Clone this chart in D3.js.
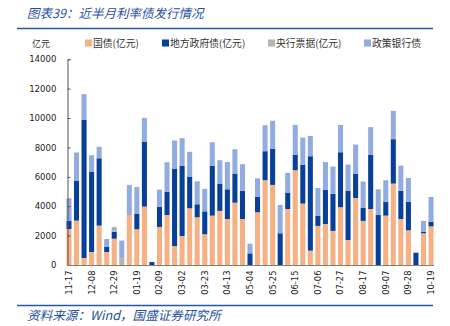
<!DOCTYPE html>
<html>
<head>
<meta charset="utf-8">
<script src="https://cdn.jsdelivr.net/npm/d3@7"></script>
<style>
  body { margin: 0; background: #fff; }
  svg { display: block; }
</style>
</head>
<body>
<div id="chart"></div>
<script>
(function () {
  "use strict";

  // weekly issue dates
  let weeks = ['11-17','11-24','12-01','12-08','12-15','12-22','12-29','01-05','01-12','01-19',
    '01-26','02-02','02-09','02-16','02-23','03-02','03-09','03-16','03-23','03-30',
    '04-06','04-13','04-20','04-27','05-04','05-11','05-18','05-25','06-01','06-08',
    '06-15','06-22','06-29','07-06','07-13','07-20','07-27','08-03','08-10','08-17',
    '08-24','08-31','09-07','09-14','09-21','09-28','10-05','10-12','10-19']

  let govBond = [2450,3020,480,885,2680,885,1790,0,3400,2430,3970,0,2590,3400,1290,1970,3860,3250,2090,3360,
    3680,3130,4240,3130,0,3590,5770,5450,0,3810,6450,4180,980,2660,2790,2320,3930,1700,4560,3000,
    3810,0,3360,5540,3130,2360,0,2160,2630]
  let localBond = [550,2720,9390,5475,4580,365,480,0,0,1070,4430,200,1380,1590,5270,4770,2160,880,1560,3380,
    1860,2020,1980,1910,790,1040,1970,2470,2160,1120,1060,2630,6420,700,2320,2520,3740,3340,1660,900,
    3700,3400,950,3020,1910,1950,840,110,320]
  let cbBill = [0,0,0,0,0,0,100,450,0,0,0,0,0,0,0,0,0,0,0,0,
    0,0,0,0,0,0,0,0,0,0,0,0,0,0,0,0,0,0,0,0,
    0,0,0,0,0,0,0,0,0]
  let policyBond = [1540,1910,1750,1110,780,520,200,1210,2050,1810,1610,0,1160,2000,1910,1890,1680,1570,1530,1610,
    1590,1860,1660,1820,660,1270,1770,1890,1930,1340,2020,1860,1380,1880,1900,1860,1860,1790,1970,1780,
    1870,1750,1460,1930,1720,1610,0,730,1680]

  let yTicks = [0,2000,4000,6000,8000,10000,12000,14000]

  let seriesNames = ['国债(亿元)','地方政府债(亿元)','央行票据(亿元)','政策银行债']
  let colors = ['#f5b183','#083f98','#b4b4b4','#92ace0']
  let keys = ['gov','local','cb','policy']

  let rows = weeks.map(function(w,i){
    return {week: w, gov: govBond[i], local: localBond[i], cb: cbBill[i], policy: policyBond[i]}
  })

  let W = 450, H = 326
  let svg = d3.select('#chart').append('svg').attr('width',W).attr('height',H)

  let blue = '#2458a6'
  let cjk = '"Noto Sans CJK SC", sans-serif'

  // title + rules
  svg.append('text').attr('x',27).attr('y',18)
    .attr('font-family',cjk).attr('font-style','italic')
    .attr('font-size',12.5).attr('fill','#1f4fa0')
    .text('图表39：近半月利率债发行情况')
  svg.append('line').attr('x1',17).attr('x2',433).attr('y1',28.5).attr('y2',28.5)
    .attr('stroke',blue).attr('stroke-width',1.6)
  svg.append('line').attr('x1',17).attr('x2',433).attr('y1',305.5).attr('y2',305.5)
    .attr('stroke',blue).attr('stroke-width',1.6)
  svg.append('text').attr('x',27).attr('y',320)
    .attr('font-family',cjk).attr('font-style','italic')
    .attr('font-size',12.6).attr('fill','#1f4fa0')
    .text('资料来源：Wind，国盛证券研究所')

  // unit label
  svg.append('text').attr('x',32).attr('y',46.5)
    .attr('font-family',cjk).attr('font-size',9).attr('fill','#333')
    .text('亿元')

  // legend
  let legendX = [85,162,268,364]
  let legend = svg.append('g')
  seriesNames.forEach(function(name,i){
    legend.append('rect').attr('x',legendX[i]).attr('y',39.5).attr('width',7).attr('height',7)
      .attr('fill',colors[i])
    legend.append('text').attr('x',legendX[i]+8).attr('y',46.8)
      .attr('font-family',cjk).attr('font-size',9.8).attr('fill','#333')
      .text(name)
  })

  let x = d3.scaleBand().domain(weeks).range([65.2,434.8]).paddingInner(0.33).paddingOuter(0.165)
  let y = d3.scaleLinear().domain([0,14000]).range([265,59.2])

  let stacked = d3.stack().keys(keys)(rows)

  let bars = svg.append('g')
  stacked.forEach(function(layer,k){
    bars.append('g').attr('fill',colors[k])
      .selectAll('rect').data(layer).enter().append('rect')
      .attr('x',function(d){ return x(d.data.week) })
      .attr('width',x.bandwidth())
      .attr('y',function(d){ return y(d[1]) })
      .attr('height',function(d){ return Math.max(0, y(d[0]) - y(d[1])) })
  })

  // y axis
  let yAxis = svg.append('g').attr('transform','translate(67.5,0)')
    .call(d3.axisLeft(y).tickValues(yTicks).tickSize(-3).tickPadding(11).tickFormat(d3.format('d')))
  yAxis.select('.domain').attr('stroke','#555')
  yAxis.selectAll('.tick line').attr('stroke','#555')
  yAxis.selectAll('text').attr('font-family','"DejaVu Sans", sans-serif').attr('font-size',8.6).attr('fill','#222')

  // x axis
  let xAxis = svg.append('g').attr('transform','translate(0,265.5)')
    .call(d3.axisBottom(x).tickValues(weeks.filter(function(d,i){ return i % 3 === 0 })).tickSize(0))
  xAxis.select('.domain').attr('stroke','#8c7b70').attr('d','M67,0H434')
  xAxis.selectAll('text')
    .attr('font-family','"DejaVu Sans", sans-serif').attr('font-size',8.4).attr('fill','#222')
    .attr('transform','rotate(-90)')
    .attr('text-anchor','end')
    .attr('x',-5).attr('y',0).attr('dy','0.35em')

}());
</script>
</body>
</html>
